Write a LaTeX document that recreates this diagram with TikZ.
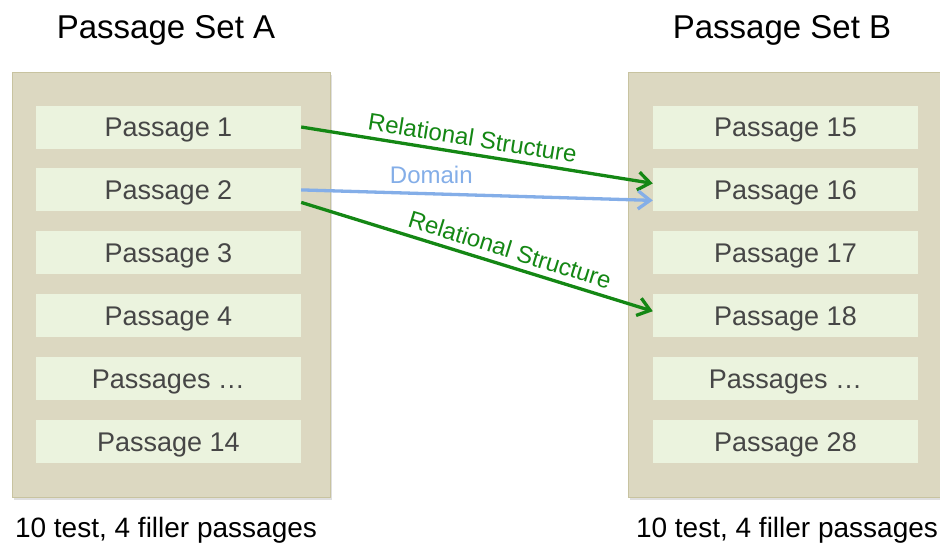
\documentclass[tikz,border=0pt]{standalone}
\usepackage{fontspec}
\setmainfont{Liberation Sans}
\usepackage{xcolor}
\usetikzlibrary{arrows.meta,positioning,shadows}

\definecolor{panelfill}{RGB}{220,216,193}
\definecolor{panelline}{RGB}{200,195,160}
\definecolor{passfill}{RGB}{235,243,222}
\definecolor{passtext}{RGB}{70,70,70}
\definecolor{relgreen}{RGB}{20,135,20}
\definecolor{domblue}{RGB}{132,174,232}

\begin{document}
\begin{tikzpicture}[
    x=1pt, y=1pt,
    >={Straight Barb[length=12pt, width=18pt]},
    node distance=19.5pt,
    panel/.style={draw=panelline, line width=1pt, fill=panelfill, minimum width=318pt, minimum height=425pt,
        drop shadow={shadow xshift=2pt, shadow yshift=-3pt, opacity=0.25}},
    passage/.style={fill=passfill, text=passtext, minimum width=265pt, minimum height=43pt, inner sep=0pt,
        text height=19.5pt, text depth=0pt, font=\fontsize{27}{30}\selectfont},
    title/.style={anchor=base, font=\fontsize{33}{38}\selectfont},
    count/.style={anchor=base, font=\fontsize{28}{32}\selectfont},
    link/.style={->, line width=3.3pt},
    tag/.style={font=\fontsize{24}{28}\selectfont, inner sep=6pt}
]
\useasboundingbox[fill=white] (0,0) rectangle (940,-547);

% two passage sets
\node[panel] (setA) at (171,-284.5) {};
\node[panel] (setB) at (787,-284.5) {};

\node[title] (titleA) at (166,-38) {Passage Set A};
\node[title] (titleB) at (782,-38) {Passage Set B};

\node[passage] (a1) at (168.5,-127) {Passage 1};
\node[passage, below=of a1] (a2) {Passage 2};
\node[passage, below=of a2] (a3) {Passage 3};
\node[passage, below=of a3] (a4) {Passage 4};
\node[passage, below=of a4] (a5) {Passages \dots};
\node[passage, below=of a5] (a6) {Passage 14};

\node[passage] (b1) at (785.5,-127) {Passage 15};
\node[passage, below=of b1] (b2) {Passage 16};
\node[passage, below=of b2] (b3) {Passage 17};
\node[passage, below=of b3] (b4) {Passage 18};
\node[passage, below=of b4] (b5) {Passages \dots};
\node[passage, below=of b5] (b6) {Passage 28};

\node[count] (countA) at (166,-537) {10 test, 4 filler passages};
\node[count] (countB) at (787,-537) {10 test, 4 filler passages};

% links between the sets
\draw[link, relgreen] (a1.east) -- node[tag, pos=0.48, sloped, above] {Relational Structure}
    ([yshift=6.5pt]b2.west);
\draw[link, domblue] (a2.east) -- node[tag, pos=0.37, above, yshift=2pt] {Domain}
    ([yshift=-10.5pt]b2.west);
\draw[link, relgreen] ([yshift=-12.5pt]a2.east) -- node[tag, pos=0.58, sloped, above] {Relational Structure}
    ([yshift=4.5pt]b4.west);
\end{tikzpicture}
\end{document}
